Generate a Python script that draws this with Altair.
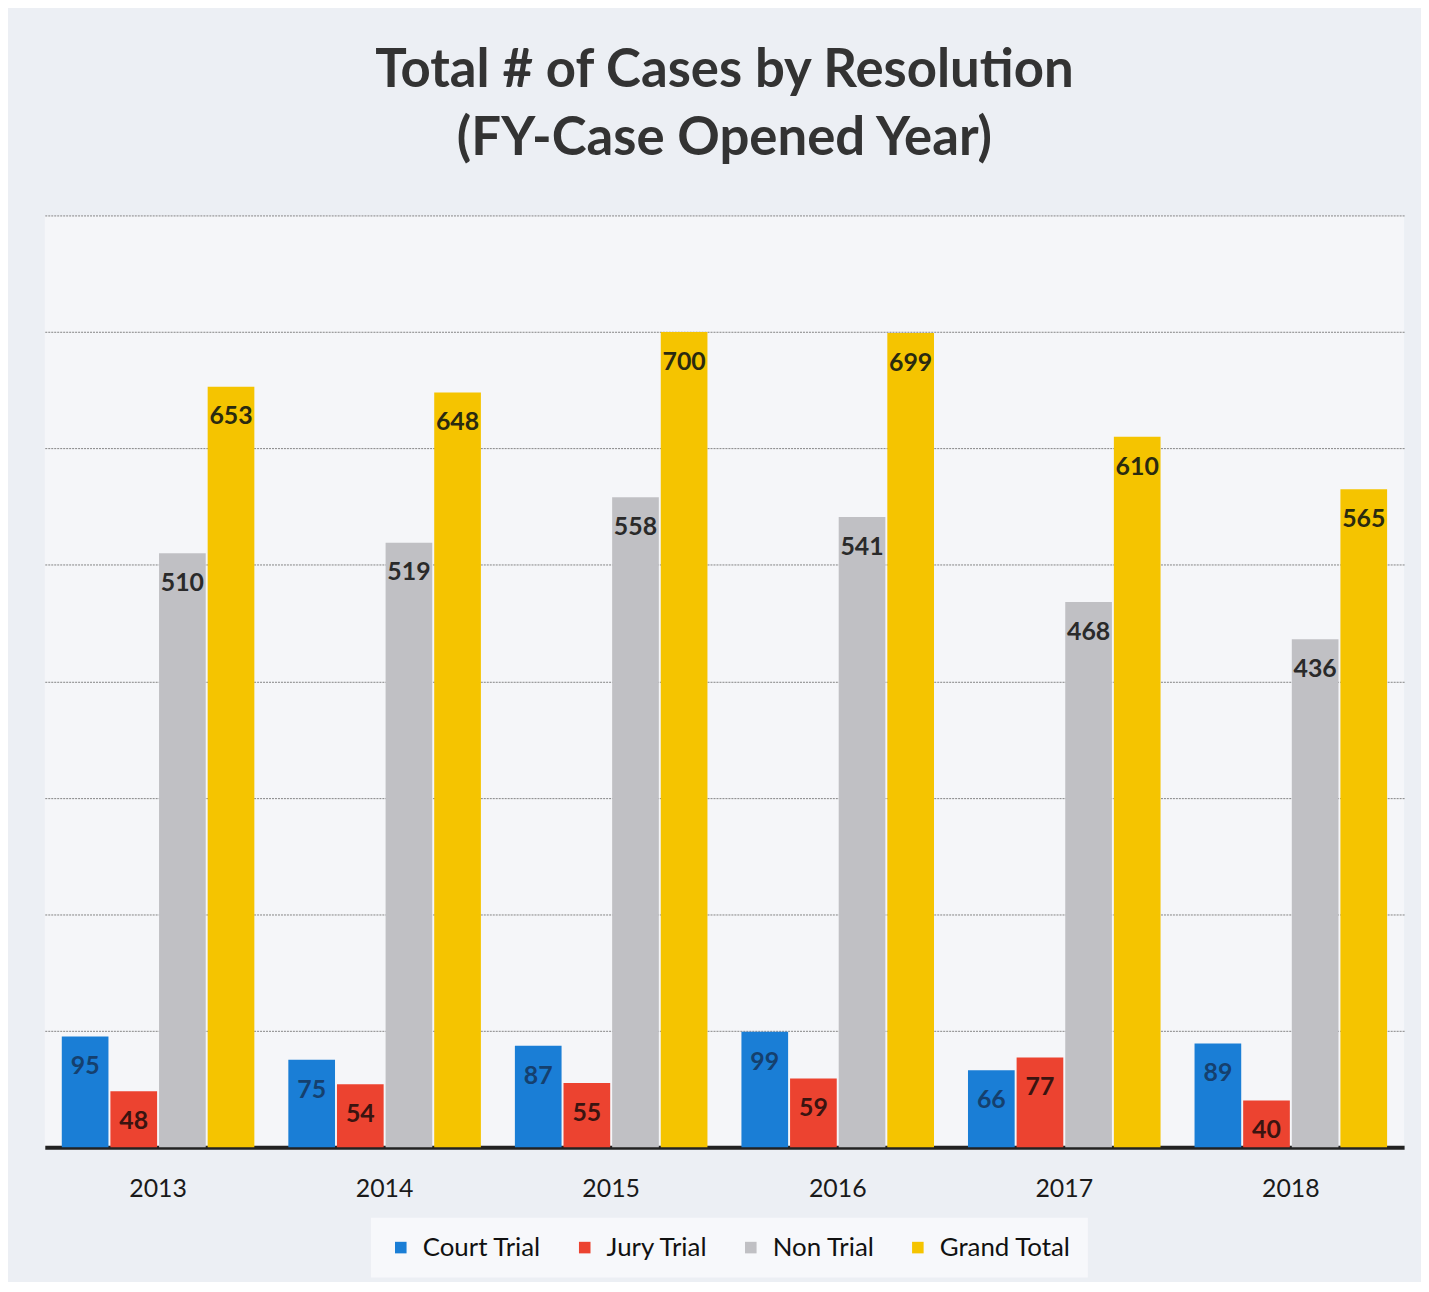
import altair as alt
import pandas as pd

years = ["2013", "2014", "2015", "2016", "2017", "2018"]
series = ["Court Trial", "Jury Trial", "Non Trial", "Grand Total"]
court_trial = [95, 75, 87, 99, 66, 89]
jury_trial = [48, 54, 55, 59, 77, 40]
non_trial = [510, 519, 558, 541, 468, 436]
grand_total = [653, 648, 700, 699, 610, 565]
colors = ["#1a7ed6", "#ec4330", "#c0c0c4", "#f5c400"]
label_colors = ["#15406e", "#3a1410", "#2a2a2a", "#2a2a10"]

vals = [court_trial, jury_trial, non_trial, grand_total]
rows = []
for si, s in enumerate(series):
    for yi, y in enumerate(years):
        rows.append({"Year": y, "Series": s, "Value": vals[si][yi],
                     "order": si, "lc": label_colors[si]})
df = pd.DataFrame(rows)

FONT = "Lato"

x = alt.X("Year:N", sort=years, title=None,
          scale=alt.Scale(paddingInner=0.15, paddingOuter=0.075),
          axis=alt.Axis(labelAngle=0, labelFontSize=25, labelColor="#1a1a1a",
                        labelFont=FONT, labelPadding=30, ticks=False,
                        domainColor="#222", domainWidth=4))
xo = alt.XOffset("Series:N", sort=series,
                 scale=alt.Scale(paddingInner=0.04))
y = alt.Y("Value:Q", title=None,
          scale=alt.Scale(domain=[0, 800], nice=False),
          axis=alt.Axis(values=[100, 200, 300, 400, 500, 600, 700, 800],
                        labels=False, ticks=False, domain=False,
                        grid=True, gridColor="#666", gridDash=[2, 1],
                        gridWidth=1, gridOpacity=0.8))

base = alt.Chart(df)

bars = base.mark_bar().encode(
    x=x, xOffset=xo, y=y,
    color=alt.Color("Series:N", sort=series,
                    scale=alt.Scale(domain=series, range=colors),
                    legend=alt.Legend(title=None, orient="none",
                                      legendX=328, legendY=1008,
                                      direction="horizontal",
                                      symbolType="square", symbolSize=135,
                                      symbolStrokeWidth=0,
                                      labelFontSize=26, labelFont=FONT,
                                      labelColor="#111",
                                      columnPadding=30, labelOffset=9,
                                      fillColor="#f7f8fb", padding=17)),
)

labels = base.mark_text(fontSize=25, font=FONT, fontWeight="bold",
                        baseline="middle", dy=30).encode(
    x=x, xOffset=xo, y=y,
    text=alt.Text("Value:Q"),
    color=alt.Color("lc:N", scale=None),
)

chart = alt.layer(bars, labels).properties(
    width=1367, height=937,
    title=alt.TitleParams(text=["Total # of Cases by Resolution",
                                "(FY-Case Opened Year)"],
                          fontSize=53, font=FONT, fontWeight="bold",
                          color="#333", lineHeight=68, offset=50,
                          anchor="middle"),
    background="#eceff4",
    padding={"left": 37, "top": 205, "right": 17, "bottom": 132},
    autosize=alt.AutoSizeParams(type="none"),
).configure_view(stroke=None, fill="#f5f6f9")

chart.save("out.html", embed_options={"renderer": "svg", "actions": False})
